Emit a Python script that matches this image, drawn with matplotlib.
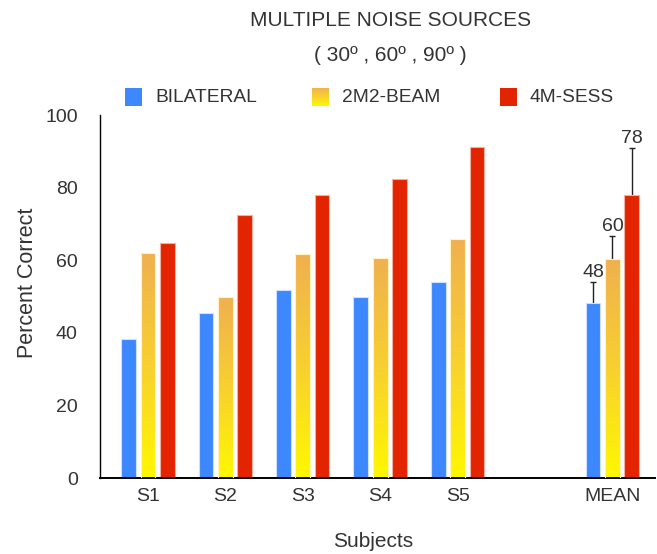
import numpy as np
import matplotlib
matplotlib.use('Agg')
import matplotlib.pyplot as plt
from matplotlib.patches import Rectangle
from matplotlib.colors import LinearSegmentedColormap

plt.rcParams['font.family'] = ['Liberation Sans', 'DejaVu Sans']

# Data
subjects = ['S1', 'S2', 'S3', 'S4', 'S5', 'MEAN']
positions = [0, 1, 2, 3, 4, 6]
bilateral = [38.3, 45.5, 51.8, 49.9, 54.0, 48.2]
beam = [62.0, 49.9, 61.7, 60.6, 65.8, 60.3]
sess = [64.7, 72.5, 78.0, 82.4, 91.2, 78.0]
mean_err_top = [54.0, 66.7, 91.0]   # upper whiskers on MEAN bars
mean_labels = ['48', '60', '78']
series_names = ['BILATERAL', '2M2-BEAM', '4M-SESS']

BLUE = '#3D87FF'
RED = '#E32400'
TXT = '#333333'
yellow_cmap = LinearSegmentedColormap.from_list('ybeam', ['#FFF800', '#F8D030', '#F0B050'])

fig = plt.figure(figsize=(6.57, 5.54), dpi=100)
ax = fig.add_axes([0.152, 0.137, 0.845, 0.655])

width = 0.19
step = 0.25
grad = np.linspace(0, 1, 256).reshape(-1, 1)

for i, x in enumerate(positions):
    # blue
    ax.add_patch(Rectangle((x - step - width / 2, 0), width, bilateral[i],
                           facecolor=BLUE, edgecolor='#cfe0ff', lw=0.8, zorder=2))
    # yellow gradient
    r = Rectangle((x - width / 2, 0), width, beam[i], facecolor='none',
                  edgecolor='#fff4c0', lw=0.8, zorder=3)
    ax.add_patch(r)
    im = ax.imshow(grad, cmap=yellow_cmap, origin='lower', aspect='auto',
                   extent=(x - width / 2, x + width / 2, 0, beam[i]), zorder=2)
    im.set_clip_path(r)
    # red
    ax.add_patch(Rectangle((x + step - width / 2, 0), width, sess[i],
                           facecolor=RED, edgecolor='#f3b0a0', lw=0.8, zorder=2))

# error bars (upper only, drawn behind the bars) + labels on MEAN
mx = positions[-1]
for off, val, top, lab in zip([-step, 0, step], [bilateral[-1], beam[-1], sess[-1]],
                              mean_err_top, mean_labels):
    ax.errorbar(mx + off, val - 1.5, yerr=[[0], [top - val + 1.5]], fmt='none',
                ecolor='#222222', elinewidth=1, capsize=2.3, capthick=1, zorder=1)
    ax.text(mx + off, top + 1.4, lab, ha='center', va='baseline',
            fontsize=14, color=TXT)

ax.set_xlim(-0.62, 6.55)
ax.set_ylim(0, 100)
ax.set_xticks(positions)
ax.set_xticklabels(subjects)
ax.set_yticks([0, 20, 40, 60, 80, 100])
ax.tick_params(length=0, labelsize=14, colors=TXT)
ax.tick_params(axis='x', pad=7)
ax.tick_params(axis='y', pad=16)
for s in ['top', 'right']:
    ax.spines[s].set_visible(False)
ax.spines['left'].set_linewidth(1)
ax.spines['bottom'].set_linewidth(1.4)
ax.set_ylabel('Percent Correct', fontsize=15.5, color=TXT)
ax.yaxis.set_label_coords(-0.112, 0.537)
ax.set_xlabel('Subjects', fontsize=15, color=TXT)
ax.xaxis.set_label_coords(0.492, -0.148)

# titles
fig.text(0.594, 0.963, 'MULTIPLE NOISE SOURCES', ha='center', va='center',
         fontsize=15, color=TXT)
fig.text(0.594, 0.9, '( 30º , 60º , 90º )', ha='center', va='center',
         fontsize=15, color=TXT)

# legend drawn by hand
leg_y = 1 - 97 / 554
sq_w, sq_h = 17 / 657, 18 / 554
leg_x = [125 / 657, 312 / 657, 500 / 657]
for k, (lx, name) in enumerate(zip(leg_x, series_names)):
    if k == 1:
        lax = fig.add_axes([lx, leg_y - sq_h / 2, sq_w, sq_h])
        lax.imshow(grad, cmap=yellow_cmap, origin='lower', aspect='auto')
        lax.axis('off')
    else:
        fig.patches.append(Rectangle((lx, leg_y - sq_h / 2), sq_w, sq_h,
                                     transform=fig.transFigure,
                                     facecolor=BLUE if k == 0 else RED,
                                     edgecolor='none'))
    fig.text(lx + sq_w + 13 / 657, leg_y, name, ha='left', va='center',
             fontsize=13.8, color=TXT)

fig.savefig('out.png', dpi=100)
